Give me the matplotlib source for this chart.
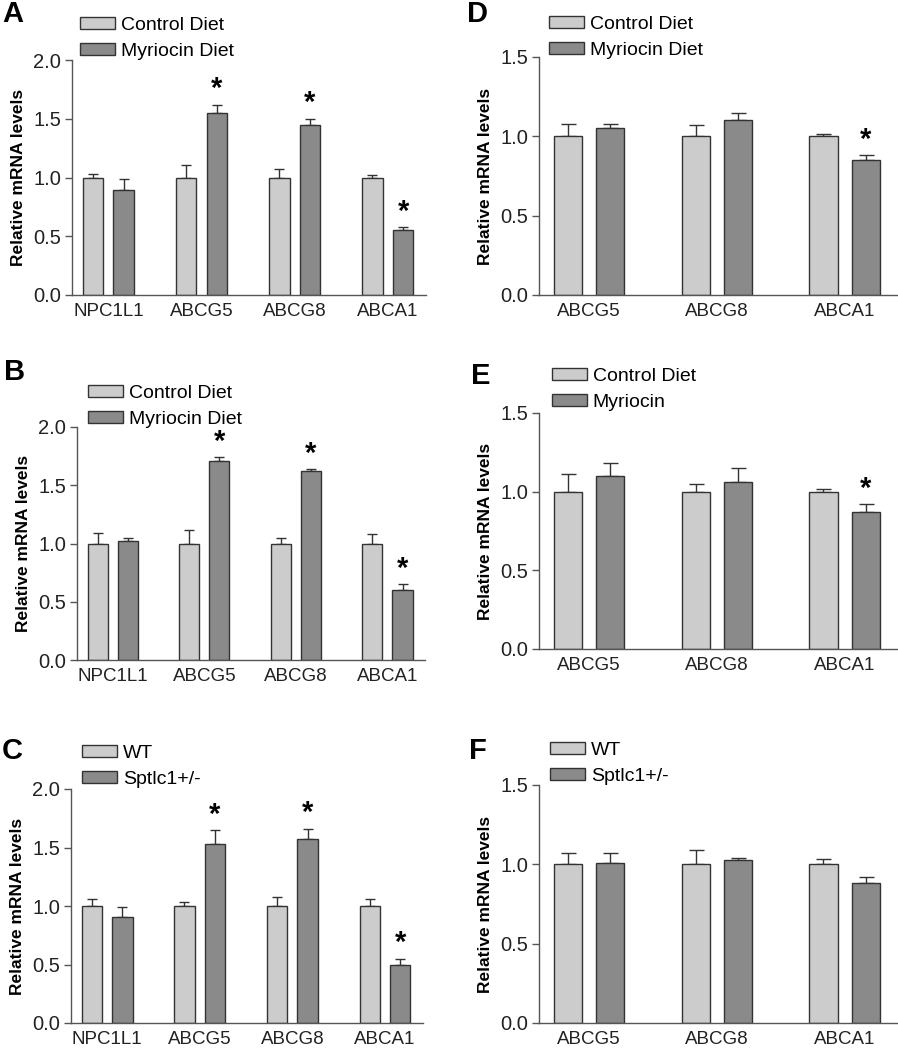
import numpy as np
import matplotlib
matplotlib.use('Agg')
import matplotlib.pyplot as plt

plt.rcParams['font.family'] = ['Liberation Sans', 'DejaVu Sans']

genes4 = ['NPC1L1', 'ABCG5', 'ABCG8', 'ABCA1']
genes3 = ['ABCG5', 'ABCG8', 'ABCA1']

# panel A
a_ctrl = [1.0, 1.0, 1.0, 1.0]
a_ctrl_err = [0.03, 0.11, 0.07, 0.02]
a_trt = [0.89, 1.55, 1.45, 0.55]
a_trt_err = [0.10, 0.07, 0.05, 0.03]
a_sig = [False, True, True, True]

# panel B
b_ctrl = [1.0, 1.0, 1.0, 1.0]
b_ctrl_err = [0.09, 0.12, 0.05, 0.08]
b_trt = [1.02, 1.71, 1.62, 0.60]
b_trt_err = [0.03, 0.03, 0.02, 0.05]
b_sig = [False, True, True, True]

# panel C
c_ctrl = [1.0, 1.0, 1.0, 1.0]
c_ctrl_err = [0.06, 0.03, 0.08, 0.06]
c_trt = [0.91, 1.53, 1.57, 0.50]
c_trt_err = [0.08, 0.12, 0.09, 0.05]
c_sig = [False, True, True, True]

# panel D
d_ctrl = [1.0, 1.0, 1.0]
d_ctrl_err = [0.08, 0.07, 0.015]
d_trt = [1.05, 1.10, 0.85]
d_trt_err = [0.03, 0.05, 0.03]
d_sig = [False, False, True]

# panel E
e_ctrl = [1.0, 1.0, 1.0]
e_ctrl_err = [0.11, 0.05, 0.02]
e_trt = [1.10, 1.06, 0.87]
e_trt_err = [0.08, 0.09, 0.05]
e_sig = [False, False, True]

# panel F
f_ctrl = [1.0, 1.0, 1.0]
f_ctrl_err = [0.07, 0.09, 0.035]
f_trt = [1.01, 1.03, 0.88]
f_trt_err = [0.06, 0.01, 0.04]
f_sig = [False, False, False]

diet_labels = ['Control Diet', 'Myriocin Diet']
diet_labels_e = ['Control Diet', 'Myriocin']
geno_labels = ['WT', 'Sptlc1+/-']

light = '#cccccc'
dark = '#8a8a8a'
edge = '#333333'

W, H = 898, 1050
fig = plt.figure(figsize=(W / 100, H / 100), dpi=100)


def px_axes(left, right, top, bottom):
    return fig.add_axes([left / W, 1 - bottom / H, (right - left) / W, (bottom - top) / H])


def panel(box, genes, ctrl, ctrl_err, trt, trt_err, sig, ymax, labels, leg_xy, letter, letter_xy, capsize):
    ax = px_axes(*box)
    x = np.arange(len(genes))
    w = 0.22
    off = 0.165
    ax.bar(x - off, ctrl, w, color=light, edgecolor=edge, linewidth=1, label=labels[0], zorder=2)
    ax.bar(x + off, trt, w, color=dark, edgecolor=edge, linewidth=1, label=labels[1], zorder=2)
    ax.errorbar(x - off, ctrl, yerr=[np.zeros(len(x)), ctrl_err], fmt='none',
                ecolor=edge, elinewidth=1, capsize=capsize, capthick=1, zorder=1)
    ax.errorbar(x + off, trt, yerr=[np.zeros(len(x)), trt_err], fmt='none',
                ecolor=edge, elinewidth=1, capsize=capsize, capthick=1, zorder=1)
    for i in range(len(x)):
        if sig[i]:
            ax.annotate('*', (x[i] + off, trt[i] + trt_err[i]), xytext=(0, 1),
                        textcoords='offset points', ha='center', va='bottom',
                        fontsize=21, fontweight='bold')
    ax.set_xlim(-0.39, len(x) - 1 + 0.41)
    ax.set_ylim(0, ymax)
    ticks = np.arange(0, ymax + 0.01, 0.5)
    ax.set_yticks(ticks)
    ax.set_yticklabels(['%.1f' % v for v in ticks])
    ax.set_xticks(x)
    ax.set_xticklabels(genes, fontsize=13.5)
    ax.tick_params(axis='x', length=0, pad=6, colors='#222222')
    ax.tick_params(axis='y', length=5, width=1, labelsize=14.5, pad=3,
                   colors='#555555', labelcolor='#222222')
    for s in ['top', 'right']:
        ax.spines[s].set_visible(False)
    for s in ['left', 'bottom']:
        ax.spines[s].set_color('#555555')
        ax.spines[s].set_linewidth(1)
    ax.set_ylabel('Relative mRNA levels', fontsize=12.5, fontweight='bold', labelpad=5)
    ax.legend(loc='upper left', bbox_to_anchor=(leg_xy[0] / W, 1 - leg_xy[1] / H),
              bbox_transform=fig.transFigure, frameon=False, fontsize=14,
              handlelength=1.8, handleheight=0.6, handletextpad=0.3,
              labelspacing=0.45, borderpad=0, borderaxespad=0)
    fig.text(letter_xy[0] / W, 1 - letter_xy[1] / H, letter, fontsize=21,
             fontweight='bold', ha='left', va='center')
    return ax


panel((72, 426, 60, 295), genes4, a_ctrl, a_ctrl_err, a_trt, a_trt_err, a_sig, 2.0,
      diet_labels, (80, 17), 'A', (2, 14), 3.6)
panel((77, 425, 427, 660), genes4, b_ctrl, b_ctrl_err, b_trt, b_trt_err, b_sig, 2.0,
      diet_labels, (88, 385), 'B', (4, 372), 3.6)
panel((71, 423, 789, 1023), genes4, c_ctrl, c_ctrl_err, c_trt, c_trt_err, c_sig, 2.0,
      geno_labels, (82, 745), 'C', (2, 751), 3.6)
panel((539, 897, 57, 295), genes3, d_ctrl, d_ctrl_err, d_trt, d_trt_err, d_sig, 1.5,
      diet_labels, (549, 16), 'D', (467, 14), 5.4)
panel((539, 897, 413, 649), genes3, e_ctrl, e_ctrl_err, e_trt, e_trt_err, e_sig, 1.5,
      diet_labels_e, (552, 368), 'E', (471, 376), 5.4)
panel((539, 897, 785, 1023), genes3, f_ctrl, f_ctrl_err, f_trt, f_trt_err, f_sig, 1.5,
      geno_labels, (550, 742), 'F', (469, 751), 5.4)

fig.savefig('out.png', dpi=100)
